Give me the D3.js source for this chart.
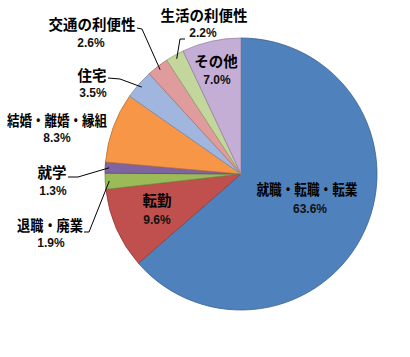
<!DOCTYPE html>
<html><head><meta charset="utf-8">
<script src="https://cdn.jsdelivr.net/npm/d3@7"></script>
<style>
html,body{margin:0;padding:0;background:#fff;}
svg{display:block;}
</style></head>
<body>
<svg id="chart" width="410" height="357"></svg>
<script>
const categories = ["就職・転職・転業","転勤","退職・廃業","就学","結婚・離婚・縁組","住宅","交通の利便性","生活の利便性","その他"];
const values = [63.6, 9.6, 1.9, 1.3, 8.3, 3.5, 2.6, 2.2, 7.0];
const valueLabels = ["63.6%","9.6%","1.9%","1.3%","8.3%","3.5%","2.6%","2.2%","7.0%"];
const colors = ["#4F81BD","#C0504D","#9BBB59","#8064A2","#F79646","#A0B6DE","#E09C9C","#C3D69B","#C4AED6"];

// label layout: name centre x, name baseline, pct centre x, pct baseline, fitted width, leader points
const labelLayout = [
  {x:307, y:195, px:310, py:213, w:101, leader:null},
  {x:157, y:206, px:157, py:224, w:null, leader:null},
  {x:50,  y:231, px:51,  py:247, w:66, leader:[[84,232],[89,232]]},
  {x:52,  y:178, px:53,  py:195, w:null, leader:[[68,177],[78,177]]},
  {x:57,  y:126, px:57,  py:142, w:100, leader:null},
  {x:92,  y:81,  px:93,  py:97,  w:null, leader:[[108,78],[120,79]]},
  {x:92,  y:30,  px:91,  py:47,  w:null, leader:[[137,28],[142,29]]},
  {x:204, y:21,  px:203, py:37,  w:null, leader:[[185,39],[180,39]]},
  {x:216, y:67,  px:217, py:84,  w:null, leader:null}
];

const svg = d3.select("#chart");
const cx = 241, cy = 174, r = 136;
const g = svg.append("g").attr("transform", `translate(${cx},${cy})`);

const data = categories.map((c,i)=>({name:c, value:values[i], label:valueLabels[i], color:colors[i], i}));
const pie = d3.pie().value(d=>d.value).sort(null).startAngle(0).endAngle(2*Math.PI);
const arc = d3.arc().innerRadius(0).outerRadius(r);
const arcs = pie(data);

g.selectAll("path.slice").data(arcs).join("path")
  .attr("class","slice")
  .attr("d", arc)
  .attr("fill", d=>d.data.color)
  .attr("stroke", d=>d3.color(d.data.color).darker(0.8))
  .attr("stroke-width", 0.8);

// leader lines to the slice edge
const edgeArc = d3.arc().innerRadius(r*0.97).outerRadius(r*0.97);
arcs.forEach((a,i)=>{
  const L = labelLayout[i];
  if(!L.leader) return;
  const c = edgeArc.centroid(a);
  const pts = L.leader.concat([[cx+c[0], cy+c[1]]]);
  svg.append("path")
    .attr("d", d3.line()(pts))
    .attr("fill","none").attr("stroke","#000").attr("stroke-width",1);
});

const txt = svg.append("g").attr("font-family","'Noto Sans CJK JP', sans-serif").attr("text-anchor","middle");
arcs.forEach((a,i)=>{
  const L = labelLayout[i];
  const t = txt.append("text").attr("x",L.x).attr("y",L.y)
    .attr("font-size",14.5).attr("font-weight","bold").attr("fill","#000")
    .text(a.data.name);
  if(L.w){ t.attr("textLength",L.w).attr("lengthAdjust","spacingAndGlyphs"); }
  txt.append("text").attr("x",L.px).attr("y",L.py)
    .attr("font-family","'Liberation Sans', Arial, sans-serif")
    .attr("font-size",12).attr("font-weight","bold").attr("fill","#111")
    .text(a.data.label);
});
</script>
</body></html>
